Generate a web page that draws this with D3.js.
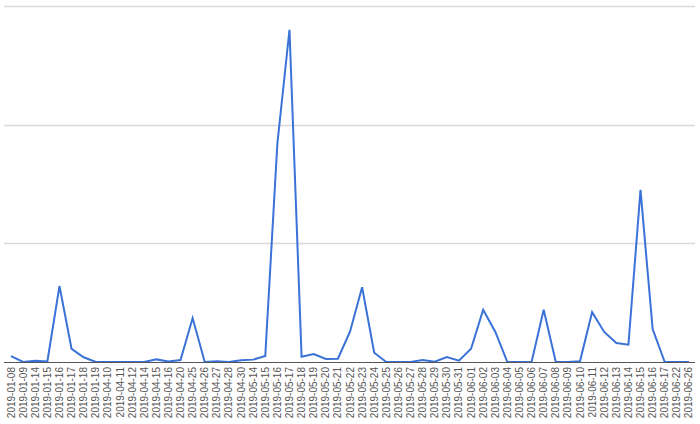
<!DOCTYPE html>
<html>
<head>
<meta charset="utf-8">
<script src="https://cdn.jsdelivr.net/npm/d3@7"></script>
<style>
  body { margin: 0; background: #fff; }
  .tick text { font-family: Arial, "Liberation Sans", sans-serif; }
</style>
</head>
<body>
<div id="chart"></div>
<script>
// categories (x axis)
var dates = ["2019-01-08","2019-01-09","2019-01-14","2019-01-15","2019-01-16","2019-01-17","2019-01-18","2019-01-19",
  "2019-04-10","2019-04-11","2019-04-12","2019-04-14","2019-04-15","2019-04-16","2019-04-20","2019-04-25","2019-04-26",
  "2019-04-27","2019-04-28","2019-04-30","2019-05-14","2019-05-15","2019-05-16","2019-05-17","2019-05-18","2019-05-19",
  "2019-05-20","2019-05-21","2019-05-22","2019-05-23","2019-05-24","2019-05-25","2019-05-26","2019-05-27","2019-05-28",
  "2019-05-29","2019-05-30","2019-05-31","2019-06-01","2019-06-02","2019-06-03","2019-06-04","2019-06-05","2019-06-06",
  "2019-06-07","2019-06-08","2019-06-09","2019-06-10","2019-06-11","2019-06-12","2019-06-13","2019-06-14","2019-06-15",
  "2019-06-16","2019-06-17","2019-06-22","2019-06-26"];

// series values
var values = [0.5,0,0.1,0.05,6.4,1.1,0.4,0,
  0,0,0,0,0.22,0.05,0.17,3.7,0,
  0.06,0,0.14,0.2,0.5,18.4,28,0.45,0.67,
  0.25,0.28,2.55,6.3,0.78,0,0,0,0.17,
  0.03,0.42,0.11,1.12,4.4,2.55,0,0,0,
  4.4,0,0,0.06,4.2,2.53,1.6,1.46,14.5,
  2.78,0,0,0];

// gridline values
var yTicks = [0, 10, 20, 30];

var margin = {top: 6, right: 5, bottom: 62, left: 5},
    width = 700 - margin.left - margin.right,
    height = 424 - margin.top - margin.bottom;

var svg = d3.select("#chart")
  .append("svg")
  .attr("width", 700)
  .attr("height", 424)
  .append("g")
  .attr("transform", "translate(" + margin.left + "," + margin.top + ")");

var x = d3.scaleBand()
  .domain(dates)
  .range([0, width]);

var y = d3.scaleLinear()
  .domain([0, 30])
  .range([height, 0]);

// gridlines
svg.append("g")
  .selectAll("line")
  .data(yTicks.slice(1))
  .enter().append("line")
  .attr("x1", -1)
  .attr("x2", width)
  .attr("y1", function(d) { return Math.round(y(d)) + 0.5; })
  .attr("y2", function(d) { return Math.round(y(d)) + 0.5; })
  .attr("stroke", "#d9d9d9")
  .attr("stroke-width", 1.5);

// x axis
var xAxis = svg.append("g")
  .attr("transform", "translate(0," + height + ")")
  .call(d3.axisBottom(x).tickSize(0).tickPadding(4));
xAxis.select(".domain").remove();
xAxis.selectAll("text")
  .attr("transform", "rotate(-90)")
  .attr("x", -5)
  .attr("y", 0)
  .attr("dy", "0.35em")
  .style("text-anchor", "end")
  .style("font-size", "10px")
  .attr("fill", "#555");

// line
var line = d3.line()
  .x(function(d, i) { return x(dates[i]) + x.bandwidth() / 2; })
  .y(function(d) { return y(d); });

svg.append("path")
  .datum(values)
  .attr("fill", "none")
  .attr("stroke", "#3a72d8")
  .attr("stroke-width", 2)
  .attr("stroke-linejoin", "miter")
  .attr("d", line);

// baseline
svg.append("line")
  .attr("x1", -1)
  .attr("x2", width)
  .attr("y1", Math.round(y(0)) + 0.5)
  .attr("y2", Math.round(y(0)) + 0.5)
  .attr("stroke", "#555")
  .attr("stroke-width", 1.2);
</script>
</body>
</html>
